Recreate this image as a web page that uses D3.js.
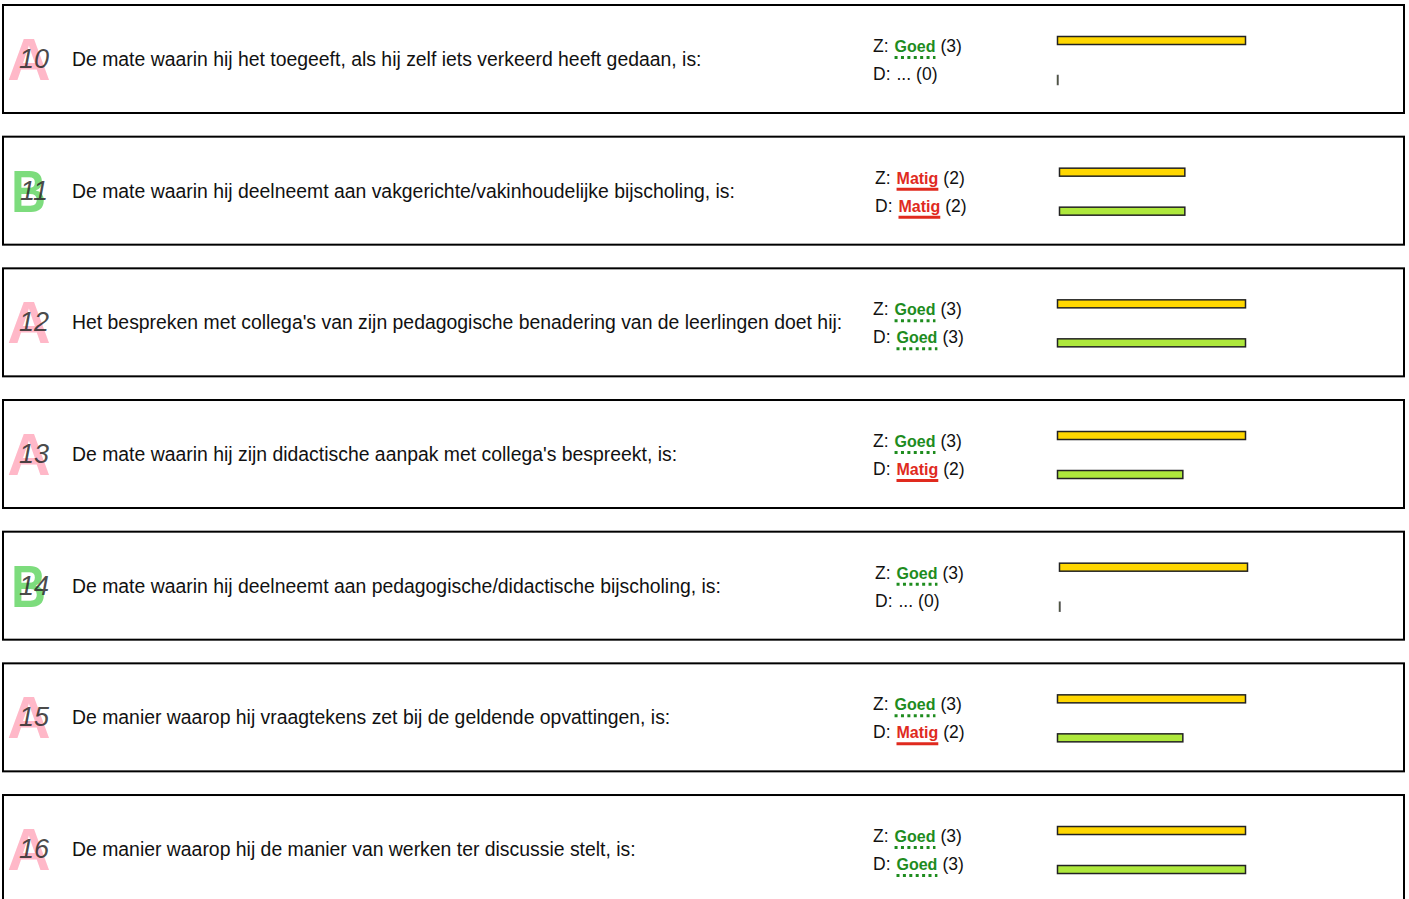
<!DOCTYPE html>
<html>
<head>
<meta charset="utf-8">
<script src="https://cdn.jsdelivr.net/npm/d3@7"></script>
<style>
  body { margin: 0; background: #fff; }
  svg text { font-family: "Liberation Sans", Arial, Helvetica, sans-serif; }
</style>
</head>
<body>
<div id="chart"></div>
<script>

// question numbers, category letters and texts
var numbers = [10, 11, 12, 13, 14, 15, 16];
var categories = ["A", "B", "A", "A", "B", "A", "A"];
var questions = [
  "De mate waarin hij het toegeeft, als hij zelf iets verkeerd heeft gedaan, is:",
  "De mate waarin hij deelneemt aan vakgerichte/vakinhoudelijke bijscholing, is:",
  "Het bespreken met collega's van zijn pedagogische benadering van de leerlingen doet hij:",
  "De mate waarin hij zijn didactische aanpak met collega's bespreekt, is:",
  "De mate waarin hij deelneemt aan pedagogische/didactische bijscholing, is:",
  "De manier waarop hij vraagtekens zet bij de geldende opvattingen, is:",
  "De manier waarop hij de manier van werken ter discussie stelt, is:"
];

// scores: Z (zelf) and D (directie)
var zScores = [3, 2, 3, 3, 3, 3, 3];
var dScores = [0, 2, 3, 2, 0, 2, 3];

// score labels
var scoreLabels = {0: "...", 1: "Zwak", 2: "Matig", 3: "Goed"};

var W = 1409, H = 899;
var pitch = 131.67, boxH = 108;

var svg = d3.select("#chart").append("svg")
    .attr("width", W)
    .attr("height", H);

var x = d3.scaleLinear().domain([0, 3]).range([0, 188]);

var rows = numbers.map(function(n, i) {
  return {num: n, cat: categories[i], q: questions[i], z: zScores[i], d: dScores[i]};
});

var g = svg.selectAll(".panel")
    .data(rows)
    .enter().append("g")
    .attr("class", "panel")
    .attr("transform", function(d, i) { return "translate(0," + (4 + i * pitch) + ")"; });

// box
g.append("rect")
    .attr("x", 3).attr("y", 1)
    .attr("width", 1401).attr("height", boxH)
    .attr("fill", "none")
    .attr("stroke", "#000")
    .attr("stroke-width", 2);

// big category letter
g.append("text")
    .attr("transform", function(d) {
      return d.cat == "A" ? "translate(29,76)" : "translate(28.5,76) scale(0.8,1)";
    })
    .attr("text-anchor", "middle")
    .attr("font-size", 60)
    .attr("font-weight", "bold")
    .attr("fill", function(d) { return d.cat == "A" ? "#ffb8c8" : "#7ddc7d"; })
    .text(function(d) { return d.cat; });

// question number
g.append("text")
    .attr("x", 34).attr("y", 64)
    .attr("text-anchor", "middle")
    .attr("font-size", 27)
    .attr("font-style", "italic")
    .attr("fill", "#2a2a2a")
    .attr("fill-opacity", 0.85)
    .text(function(d) { return d.num; });

// question text
g.append("text")
    .attr("x", 72).attr("y", 62)
    .attr("font-size", 19.4)
    .attr("fill", "#111")
    .text(function(d) { return d.q; });

// score labels (Z and D)
var lines = [{key: "z", lab: "Z:", y: 48}, {key: "d", lab: "D:", y: 76}];

lines.forEach(function(ln) {
  g.each(function(d) {
    var sel = d3.select(this);
    var x0 = 873 + (d.cat == "B" ? 2 : 0);
    var v = d[ln.key];
    var t = sel.append("text")
        .attr("x", x0).attr("y", ln.y)
        .attr("font-size", 17.5)
        .attr("fill", "#111");
    t.append("tspan").text(ln.lab);
    var col = v == 3 ? "#1e8c1e" : (v == 2 ? "#e02a1e" : "#111");
    var word = t.append("tspan").attr("dx", 6);
    if (v > 0) {
      word.attr("font-weight", "bold")
          .attr("font-size", 16)
          .attr("fill", col);
    }
    word.text(scoreLabels[v]);
    var wordX1 = x0 + t.node().getComputedTextLength() + 6;
    var wordX0 = wordX1 - word.node().getComputedTextLength();
    t.append("tspan").attr("dx", 5).text("(" + v + ")");

    if (v > 0) {
      sel.append("line")
          .attr("x1", wordX0).attr("x2", wordX1)
          .attr("y1", ln.y + 5.5).attr("y2", ln.y + 5.5)
          .attr("stroke", col)
          .attr("stroke-width", 3)
          .attr("stroke-dasharray", v == 3 ? "3,3.4" : null);
    }
  });
});

// bars
var bars = [{key: "z", y: 32.5, fill: "#ffd700"}, {key: "d", y: 71.5, fill: "#aee83c"}];

bars.forEach(function(b) {
  g.append("rect")
      .attr("x", function(d) { return 1057.5 + (d.cat == "B" ? 2 : 0); })
      .attr("y", b.y)
      .attr("width", function(d) { return Math.max(x(d[b.key]), 0.5); })
      .attr("height", function(d) { return d[b.key] > 0 ? 8 : 9; })
      .attr("fill", b.fill)
      .attr("stroke", "#222")
      .attr("stroke-opacity", function(d) { return d[b.key] > 0 ? 1 : 0.75; })
      .attr("stroke-width", 1.5);
});

</script>
</body>
</html>
